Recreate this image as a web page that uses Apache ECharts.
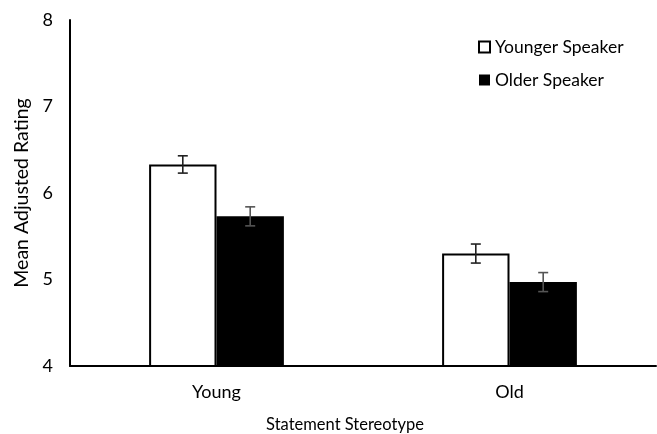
<!DOCTYPE html>
<html><head><meta charset="utf-8">
<script src="https://cdn.jsdelivr.net/npm/echarts@6/dist/echarts.min.js"></script>
<style>html,body{margin:0;padding:0;background:#fff}#c{width:657px;height:434px}</style>
</head><body><div id="c"></div>
<script>
const categories = ['Young', 'Old'];
const youngerSpeaker = [6.33, 5.30];
const olderSpeaker = [5.73, 4.97];
const youngerErr = [0.10, 0.11];
const olderErr = [0.11, 0.11];
const yTicks = [4, 5, 6, 7, 8];

const GAP = 0.54;
const FONT = 'Lato';
const chart = echarts.init(document.getElementById('c'));

function errSeries(name, vals, errs, side) {
  return {
    type: 'custom', name: name + ' err', silent: true, z: 10,
    data: vals.map((v, i) => [i, v, errs[i]]),
    renderItem: function (params, api) {
      const i = api.value(0), v = api.value(1), e = api.value(2);
      const band = api.size([1, 0])[0];
      const bw = band * (1 - GAP) / 2;
      const c = api.coord([i, v]);
      const x = c[0] + side * bw / 2;
      const top = api.coord([i, v + e])[1];
      const bot = api.coord([i, v - e])[1];
      const hw = 5;
      const st = { stroke: side < 0 ? '#222' : '#555', lineWidth: 1.6 };
      return { type: 'group', children: [
        { type: 'line', shape: { x1: x, y1: top, x2: x, y2: bot }, style: st },
        { type: 'line', shape: { x1: x - hw, y1: top, x2: x + hw, y2: top }, style: st },
        { type: 'line', shape: { x1: x - hw, y1: bot, x2: x + hw, y2: bot }, style: st }
      ]};
    }
  };
}

chart.setOption({
  animation: false,
  backgroundColor: '#fff',
  grid: { left: 70, right: 1, top: 20, bottom: 68, containLabel: false, outerBoundsMode: 'none' },
  legend: {
    orient: 'vertical', left: 473, top: 33, itemGap: 15,
    itemWidth: 11, itemHeight: 11,
    textStyle: { fontFamily: FONT, fontSize: 17.5, color: '#000' },
    data: [
      { name: 'Younger Speaker', icon: 'rect', itemStyle: { color: '#fff', borderColor: '#000', borderWidth: 2 } },
      { name: 'Older Speaker', icon: 'rect', itemStyle: { color: '#000' } }
    ]
  },
  xAxis: {
    type: 'category', data: categories,
    name: 'Statement Stereotype', nameLocation: 'middle', nameGap: 50,
    nameTextStyle: { fontFamily: FONT, fontSize: 16.5, color: '#000', padding: [0, 36, 0, 0] },
    axisLine: { lineStyle: { color: '#000', width: 2 } },
    axisTick: { show: false },
    axisLabel: { fontFamily: FONT, fontSize: 18, color: '#000', margin: 17 }
  },
  yAxis: {
    type: 'value', min: yTicks[0], max: yTicks[yTicks.length - 1], interval: 1,
    name: 'Mean Adjusted Rating', nameLocation: 'middle', nameGap: 32,
    nameTextStyle: { fontFamily: FONT, fontSize: 19.5, color: '#000' },
    axisLine: { show: true, lineStyle: { color: '#000', width: 2 } },
    axisTick: { show: false },
    splitLine: { show: false },
    axisLabel: { fontFamily: FONT, fontSize: 18, color: '#000', margin: 17 }
  },
  series: [
    { type: 'bar', name: 'Younger Speaker', data: youngerSpeaker, barGap: '0%', barCategoryGap: (GAP * 100) + '%',
      itemStyle: { color: '#fff', borderColor: '#000', borderWidth: 2 } },
    { type: 'bar', name: 'Older Speaker', data: olderSpeaker,
      itemStyle: { color: '#000' } },
    errSeries('Younger Speaker', youngerSpeaker, youngerErr, -1),
    errSeries('Older Speaker', olderSpeaker, olderErr, 1)
  ]
});
</script></body></html>
